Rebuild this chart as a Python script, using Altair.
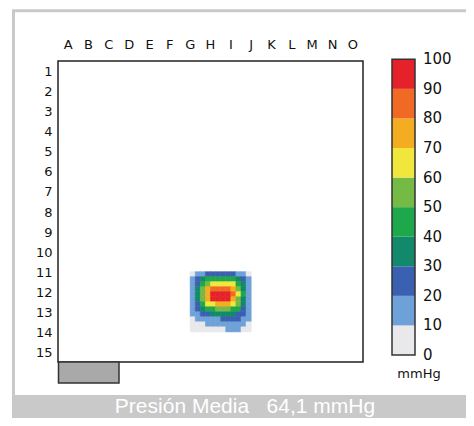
import altair as alt
import pandas as pd

# ---------------- data ----------------
COLUMNS = list("ABCDEFGHIJKLMNO")
ROWS = [str(i) for i in range(1, 16)]
LEVELS = [0, 10, 20, 30, 40, 50, 60, 70, 80, 90, 100]
COLORS = ["#e9e9eb", "#6fa1d9", "#3a60b2", "#12896a", "#1ea84c",
          "#74ba45", "#f1e73c", "#f4ad20", "#f06a25", "#e5222a"]
SUB = 4            # sensor sub-cells per lettered/numbered cell
BLOB_COL0 = 26     # first sub-column of the pressure patch
BLOB_ROW0 = 42     # first sub-row of the pressure patch
BLOB = [
    [7, 13, 17, 20, 22, 23, 23, 22, 20, 17, 13, 7],
    [14, 22, 32, 42, 46, 48, 48, 46, 42, 32, 22, 14],
    [16, 28, 45, 58, 66, 68, 68, 66, 60, 48, 30, 16],
    [17, 32, 52, 70, 84, 86, 86, 84, 74, 56, 36, 18],
    [17, 33, 55, 76, 93, 96, 96, 93, 80, 60, 40, 19],
    [17, 32, 53, 73, 90, 92, 92, 90, 78, 58, 38, 19],
    [16, 29, 46, 60, 68, 72, 72, 70, 64, 50, 33, 18],
    [14, 24, 36, 44, 48, 52, 52, 50, 46, 40, 28, 16],
    [11, 18, 24, 27, 30, 31, 32, 31, 30, 27, 22, 14],
    [8, 12, 14, 16, 18, 19, 20, 20, 21, 20, 17, 11],
    [5, 6, 8, 10, 11, 12, 14, 15, 16, 16, 13, 7],
    [4, 5, 5, 6, 7, 8, 9, 11, 12, 11, 8, 5],
]
UNIT = "mmHg"
FOOTER = "Presión Media\u00a0\u00a0\u00a064,1 mmHg"

# ---------------- tables ----------------
cells = []
for i, row in enumerate(BLOB):
    for j, v in enumerate(row):
        x = (BLOB_COL0 + j) / SUB
        y = (BLOB_ROW0 + i) / SUB
        cells.append({"x": x, "x2": x + 1 / SUB, "y": y, "y2": y + 1 / SUB, "v": v})
heat_df = pd.DataFrame(cells)
col_df = pd.DataFrame({"lab": COLUMNS, "pos": [i + 0.5 for i in range(len(COLUMNS))]})
row_df = pd.DataFrame({"lab": ROWS, "pos": [i + 0.5 for i in range(len(ROWS))]})
leg_df = pd.DataFrame({"lo": LEVELS[:-1], "hi": LEVELS[1:],
                       "mid": [l + 5 for l in LEVELS[:-1]]})
leg_lab_df = pd.DataFrame({"lvl": LEVELS, "lab": [str(l) for l in LEVELS]})
box_df = pd.DataFrame({"a": [0], "b": [len(COLUMNS)], "c": [0], "d": [len(ROWS)]})
legbox_df = pd.DataFrame({"lo": [LEVELS[0]], "hi": [LEVELS[-1]]})
one = pd.DataFrame({"k": [0]})

# ---------------- scales ----------------
xs = alt.Scale(domain=[0, len(COLUMNS)], range=[50, 355])
ys = alt.Scale(domain=[0, len(ROWS)], range=[53, 354])
ls = alt.Scale(domain=[LEVELS[0], LEVELS[-1]], range=[347, 51.3])
cs = alt.Scale(type="threshold", domain=LEVELS[1:-1], range=COLORS)

FONT = "DejaVu Sans"

frame = alt.Chart(one).mark_rect(fillOpacity=0, stroke="#c9c9c9", strokeWidth=3).encode(
    x=alt.value(5.5), x2=alt.value(480), y=alt.value(2.8), y2=alt.value(400))

band = alt.Chart(one).mark_rect(fill="#c9c9c9").encode(
    x=alt.value(4), x2=alt.value(470), y=alt.value(387), y2=alt.value(420))

band_text = alt.Chart(one).mark_text(font="Liberation Sans", fontSize=21, color="#ffffff",
                                     align="center", baseline="middle").encode(
    x=alt.value(237), y=alt.value(399), text=alt.value(FOOTER))

heat = alt.Chart(heat_df).mark_rect(strokeWidth=0.6).encode(
    x=alt.X("x:Q", scale=xs, axis=None), x2="x2:Q",
    y=alt.Y("y:Q", scale=ys, axis=None), y2="y2:Q",
    color=alt.Color("v:Q", scale=cs, legend=None),
    stroke=alt.Stroke("v:Q", scale=cs, legend=None))

box = alt.Chart(box_df).mark_rect(fillOpacity=0, stroke="#222222", strokeWidth=1.5).encode(
    x=alt.X("a:Q", scale=xs, axis=None), x2="b:Q",
    y=alt.Y("c:Q", scale=ys, axis=None), y2="d:Q")

col_labels = alt.Chart(col_df).mark_text(font=FONT, fontSize=13, color="#111111",
                                         baseline="middle").encode(
    x=alt.X("pos:Q", scale=xs, axis=None), y=alt.value(37), text="lab:N")

row_labels = alt.Chart(row_df).mark_text(font=FONT, fontSize=13, color="#111111",
                                         align="right", baseline="middle", dy=1).encode(
    y=alt.Y("pos:Q", scale=ys, axis=None), x=alt.value(44.5), text="lab:N")

tab = alt.Chart(one).mark_rect(fill="#a9a9a9", stroke="#333333", strokeWidth=1.5).encode(
    x=alt.value(50.5), x2=alt.value(111), y=alt.value(354), y2=alt.value(375))

leg_bar = alt.Chart(leg_df).mark_rect().encode(
    x=alt.value(384), x2=alt.value(407),
    y=alt.Y("lo:Q", scale=ls, axis=None), y2="hi:Q",
    color=alt.Color("mid:Q", scale=cs, legend=None))

leg_box = alt.Chart(legbox_df).mark_rect(fillOpacity=0, stroke="#333333", strokeWidth=1.5).encode(
    x=alt.value(384), x2=alt.value(407),
    y=alt.Y("lo:Q", scale=ls, axis=None), y2="hi:Q")

leg_labels = alt.Chart(leg_lab_df).mark_text(font=FONT, fontSize=15, color="#111111",
                                             align="left", baseline="middle").encode(
    y=alt.Y("lvl:Q", scale=ls, axis=None), x=alt.value(415), text="lab:N")

unit_label = alt.Chart(one).mark_text(font=FONT, fontSize=13, color="#111111",
                                      align="center", baseline="middle").encode(
    x=alt.value(411), y=alt.value(366), text=alt.value(UNIT))

chart = alt.layer(
    frame, band, band_text, heat, box, col_labels, row_labels, tab,
    leg_bar, leg_box, leg_labels, unit_label
).resolve_scale(
    y="independent", stroke="independent"
).properties(
    width=458, height=410,
    autosize=alt.AutoSizeParams(type="none"),
    padding=0,
    background="#ffffff",
).configure_view(stroke=None)

chart.save("out.html", embed_options={"renderer": "svg", "actions": False})
